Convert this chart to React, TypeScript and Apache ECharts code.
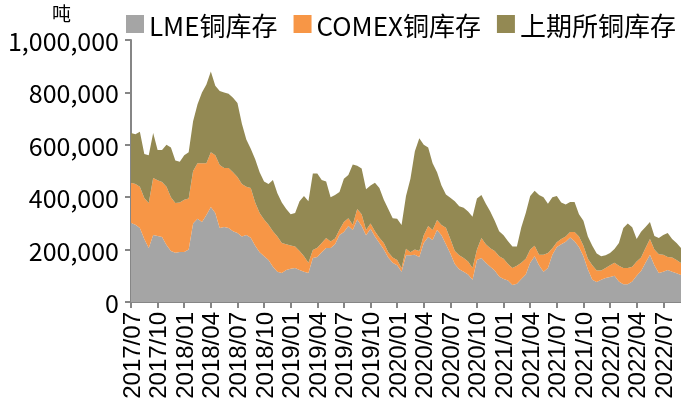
import React, { useEffect, useRef } from "react";
import * as echarts from "echarts";

// half-monthly observations, 2017/07 -> 2022/09 (tonnes)
const lme = [
  302000, 295000, 282000, 240000, 206000, 256000, 252000, 248000, 218000, 195000,
  188000, 191000, 191000, 200000, 300000, 318000, 305000, 332000, 363000, 340000,
  282000, 286000, 282000, 270000, 263000, 250000, 256000, 245000, 215000, 190000,
  175000, 160000, 135000, 115000, 111000, 122000, 127000, 130000, 122000, 115000,
  111000, 168000, 172000, 190000, 206000, 206000, 220000, 256000, 267000, 290000,
  275000, 315000, 290000, 255000, 280000, 250000, 225000, 200000, 170000, 150000,
  140000, 115000, 178000, 178000, 180000, 172000, 225000, 248000, 237000, 275000,
  255000, 220000, 185000, 145000, 125000, 115000, 105000, 85000, 160000, 168000,
  150000, 135000, 120000, 97000, 88000, 82000, 65000, 70000, 88000, 105000,
  150000, 175000, 140000, 115000, 130000, 180000, 210000, 220000, 230000, 246000,
  232000, 210000, 175000, 125000, 85000, 76000, 85000, 92000, 95000, 100000,
  78000, 68000, 68000, 78000, 100000, 118000, 150000, 180000, 140000, 111000,
  115000, 122000, 115000, 110000, 103000,
];

const comex = [
  153000, 155000, 158000, 157000, 172000, 217000, 213000, 210000, 222000, 205000,
  190000, 189000, 199000, 195000, 200000, 212000, 225000, 198000, 209000, 220000,
  241000, 225000, 229000, 225000, 214000, 200000, 184000, 190000, 165000, 150000,
  140000, 135000, 135000, 135000, 114000, 98000, 89000, 82000, 73000, 60000,
  39000, 30000, 35000, 35000, 38000, 25000, 22000, 20000, 38000, 30000,
  20000, 40000, 45000, 20000, 20000, 20000, 20000, 25000, 20000, 20000,
  20000, 15000, 25000, 12000, 20000, 23000, 30000, 42000, 38000, 38000,
  39000, 63000, 55000, 50000, 53000, 53000, 50000, 45000, 40000, 76000,
  70000, 70000, 75000, 78000, 77000, 63000, 65000, 68000, 62000, 60000,
  50000, 40000, 40000, 65000, 57000, 25000, 18000, 20000, 20000, 21000,
  35000, 40000, 40000, 40000, 55000, 44000, 35000, 38000, 45000, 50000,
  60000, 62000, 62000, 57000, 55000, 52000, 56000, 60000, 60000, 71000,
  65000, 50000, 55000, 50000, 46000,
];

const shfe = [
  190000, 190000, 210000, 168000, 182000, 172000, 115000, 122000, 160000, 190000,
  162000, 155000, 170000, 177000, 190000, 225000, 270000, 300000, 308000, 265000,
  282000, 289000, 284000, 285000, 283000, 230000, 180000, 150000, 165000, 155000,
  145000, 155000, 196000, 165000, 155000, 135000, 119000, 128000, 190000, 230000,
  235000, 292000, 283000, 241000, 216000, 169000, 166000, 144000, 165000, 165000,
  230000, 165000, 175000, 155000, 145000, 185000, 190000, 165000, 165000, 150000,
  158000, 164000, 202000, 280000, 375000, 430000, 345000, 300000, 255000, 182000,
  151000, 127000, 158000, 190000, 187000, 192000, 190000, 195000, 195000, 164000,
  155000, 140000, 115000, 95000, 90000, 87000, 82000, 74000, 135000, 175000,
  205000, 210000, 228000, 220000, 188000, 195000, 177000, 140000, 122000, 115000,
  115000, 85000, 95000, 85000, 75000, 65000, 55000, 48000, 47000, 52000,
  87000, 152000, 170000, 150000, 85000, 98000, 80000, 65000, 52000, 62000,
  76000, 91000, 70000, 65000, 57000,
];

const seriesNames = ["LME铜库存", "COMEX铜库存", "上期所铜库存"];
const seriesColors = ["#a5a5a5", "#f79646", "#938953"];
const yTicks = { min: 0, max: 1000000, interval: 200000 };
const unitLabel = "吨";

function buildDates(count: number): string[] {
  const out: string[] = [];
  for (let m = 0; out.length < count; m++) {
    const y = 2017 + Math.floor((6 + m) / 12);
    const mo = ((6 + m) % 12) + 1;
    const mm = mo < 10 ? "0" + mo : String(mo);
    out.push(`${y}/${mm}/01`);
    if (out.length < count) out.push(`${y}/${mm}/16`);
  }
  return out;
}
const dates = buildDates(lme.length);

export default function App() {
  const ref = useRef<HTMLDivElement>(null);
  useEffect(() => {
    if (!ref.current) return;
    const chart = echarts.init(ref.current, null, { renderer: "svg" });
    const isQuarter = (i: number) => i % 6 === 0;
    const data = [lme, comex, shfe];
    chart.setOption({
      animation: false,
      color: seriesColors,
      textStyle: { fontFamily: "'Noto Sans CJK SC', 'Noto Sans', sans-serif" },
      grid: { left: 131, right: 0, top: 40, bottom: 114, containLabel: false },
      legend: {
        top: 6,
        left: 121,
        itemWidth: 18,
        itemHeight: 18,
        itemGap: 16,
        icon: "rect",
        textStyle: { fontSize: 26, color: "#000", fontFamily: "'Noto Sans CJK SC', sans-serif" },
        data: seriesNames,
      },
      graphic: [
        {
          type: "text",
          left: 52,
          top: 3,
          style: {
            text: unitLabel,
            fontSize: 19,
            lineHeight: 19,
            fill: "#000",
            fontFamily: "'Noto Sans CJK SC', sans-serif",
          },
        },
      ],
      xAxis: {
        type: "category",
        data: dates,
        boundaryGap: false,
        axisLine: { lineStyle: { color: "#868686", width: 2 } },
        axisTick: { show: true, interval: (i: number) => isQuarter(i), length: 6, lineStyle: { color: "#868686", width: 2 } },
        axisLabel: {
          interval: (i: number) => isQuarter(i),
          rotate: 90,
          margin: 10,
          fontSize: 24,
          color: "#000",
          fontFamily: "'Liberation Sans', Arial, sans-serif",
          formatter: (v: string) => v.slice(0, 7),
        },
        splitLine: { show: false },
      },
      yAxis: {
        type: "value",
        min: yTicks.min,
        max: yTicks.max,
        interval: yTicks.interval,
        axisLine: { show: true, lineStyle: { color: "#868686", width: 2 } },
        axisTick: { show: true, length: 6, lineStyle: { color: "#868686", width: 2 } },
        axisLabel: {
          fontSize: 25,
          lineHeight: 24,
          color: "#000",
          margin: 12,
          fontFamily: "'Noto Sans CJK SC', sans-serif",
          formatter: (v: number) => v.toLocaleString("en-US"),
        },
        splitLine: { show: false },
      },
      series: seriesNames.map((name, i) => ({
        name,
        type: "line",
        stack: "total",
        data: data[i],
        symbol: "none",
        lineStyle: { width: 0 },
        areaStyle: { color: seriesColors[i], opacity: 1 },
        itemStyle: { color: seriesColors[i] },
        z: 2,
      })),
    });
    return () => chart.dispose();
  }, []);
  return (
    <div
      ref={ref}
      style={{ position: "fixed", left: 0, top: 0, width: 681, height: 416 }}
    />
  );
}
